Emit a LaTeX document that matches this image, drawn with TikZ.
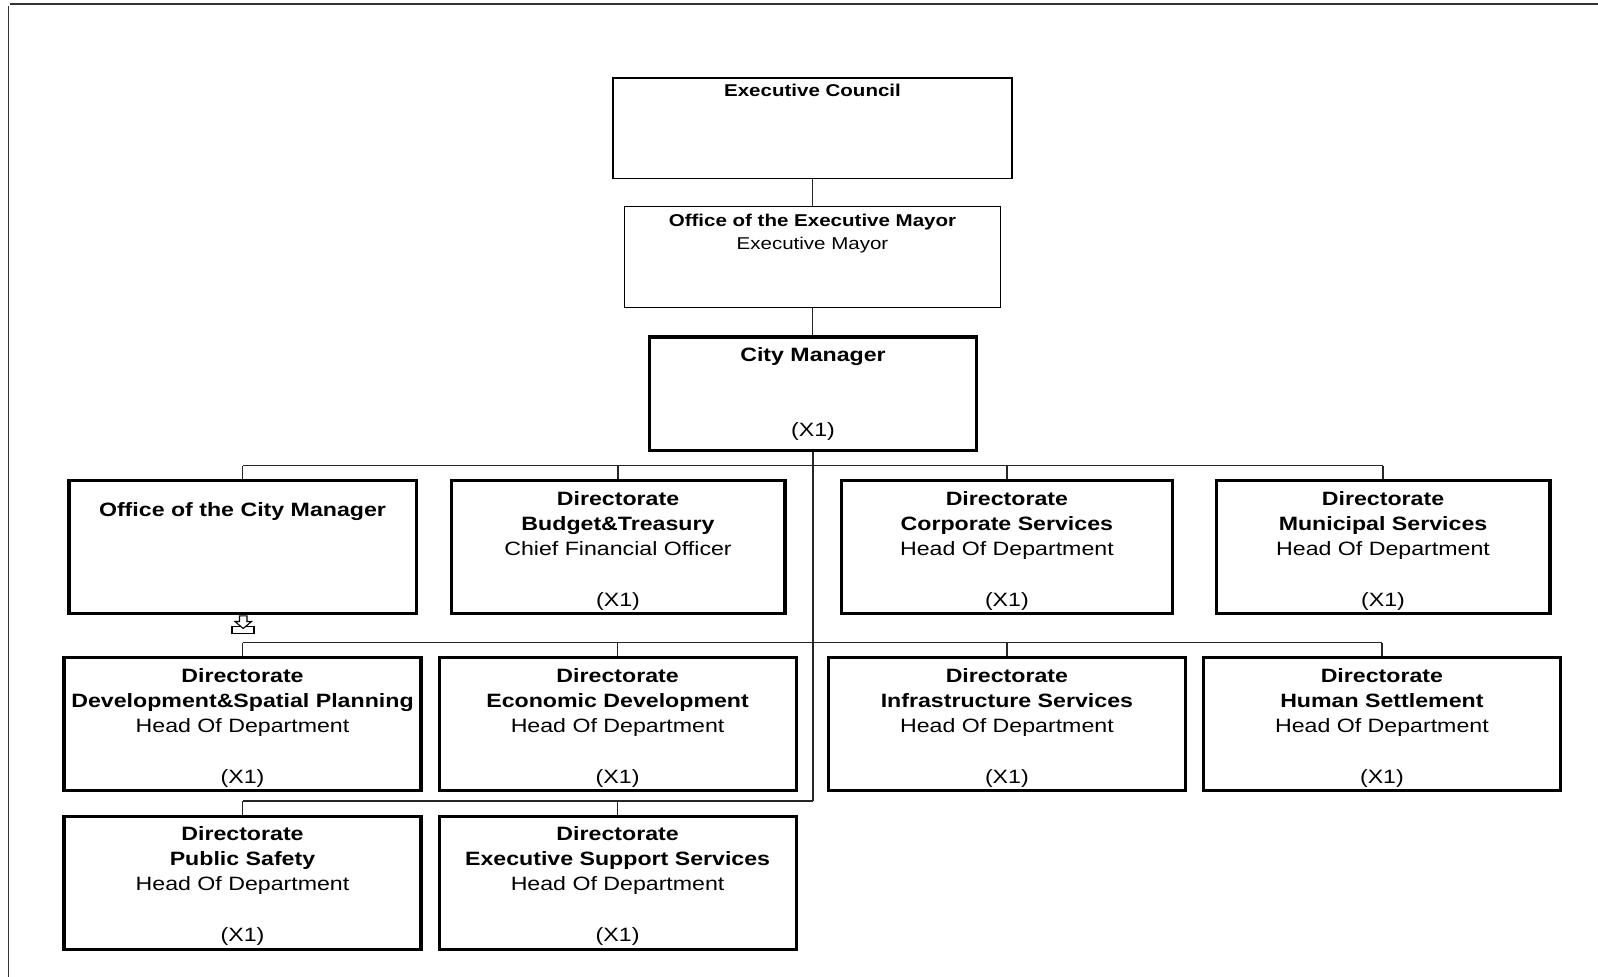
\documentclass[tikz,border=0pt]{standalone}
\usepackage{fontspec}
\setmainfont{Liberation Sans}[FakeStretch=1.2]
\usetikzlibrary{positioning}

\begin{document}
\begin{tikzpicture}[
    x=1pt,y=-1pt,
    post/.style={draw,line width=1.3pt,inner sep=0pt},
    unit/.style={draw,line width=3.2pt,inner sep=0pt,minimum width=357pt,minimum height=133pt},
    head/.style={anchor=base,align=center,font=\fontsize{17.1}{23.3}\selectfont},
    txt/.style={anchor=base,align=center,font=\fontsize{19.3}{25}\selectfont},
    link/.style={draw=black!85,line width=1.2pt},
    frame/.style={draw=black!80,line width=1.3pt}
  ]
    \useasboundingbox (0,0) rectangle (1598,977);
    \draw[frame] (8.3,977) -- (8.3,6);
    \draw[frame] (10,4) -- (1598,4);

    % top of the chart
    \node[post,minimum width=399pt,minimum height=100.4pt] (ec) at (812.5,128.2) {};
    \node[head] (ect) at ([yshift=-19.4pt]ec.north) {\textbf{Executive Council}};
    \node[post,minimum width=375.7pt,minimum height=101.3pt] (em) at (812.5,257) {};
    \node[head] (emt) at ([yshift=-43.6pt]em.north) {\textbf{Office of the Executive Mayor}\\Executive Mayor};
    \node[unit,minimum width=327.4pt,minimum height=113.2pt] (cm) at (813,393.5) {};
    \node[txt] (cmt) at ([yshift=-25.7pt]cm.north) {\textbf{City Manager}};
    \node[txt] (cmx) at ([yshift=15pt]cm.south) {(X1)};

    % first row
    \node[unit,minimum width=347.2pt,minimum height=132.8pt] (ocm) at (242.5,547) {};
    \node[txt] (ocmt) at ([yshift=-37.7pt]ocm.north) {\textbf{Office of the City Manager}};
    \node[unit,minimum width=333.8pt,minimum height=132.8pt] (bt) at (618,547) {};
    \node[txt] (btt) at ([yshift=-76pt]bt.north) {\textbf{Directorate}\\\textbf{Budget\&Treasury}\\Chief Financial Officer};
    \node[txt] (btx) at ([yshift=9pt]bt.south) {(X1)};
    \node[unit,minimum width=330.8pt,minimum height=132.8pt] (cs) at (1006.9,547) {};
    \node[txt] (cst) at ([yshift=-76pt]cs.north) {\textbf{Directorate}\\\textbf{Corporate Services}\\Head Of Department};
    \node[txt] (csx) at ([yshift=9pt]cs.south) {(X1)};
    \node[unit,minimum width=333.8pt,minimum height=132.8pt] (ms) at (1383,547) {};
    \node[txt] (mst) at ([yshift=-76pt]ms.north) {\textbf{Directorate}\\\textbf{Municipal Services}\\Head Of Department};
    \node[txt] (msx) at ([yshift=9pt]ms.south) {(X1)};

    % second row
    \node[unit] (dsp) at (242.5,724.3) {};
    \node[txt] (dspt) at ([yshift=-76pt]dsp.north) {\textbf{Directorate}\\\textbf{Development\&Spatial Planning}\\Head Of Department};
    \node[txt] (dspx) at ([yshift=9pt]dsp.south) {(X1)};
    \node[unit] (ed) at (617.6,724.3) {};
    \node[txt] (edt) at ([yshift=-76pt]ed.north) {\textbf{Directorate}\\\textbf{Economic Development}\\Head Of Department};
    \node[txt] (edx) at ([yshift=9pt]ed.south) {(X1)};
    \node[unit] (is) at (1006.9,724.3) {};
    \node[txt] (ist) at ([yshift=-76pt]is.north) {\textbf{Directorate}\\\textbf{Infrastructure Services}\\Head Of Department};
    \node[txt] (isx) at ([yshift=9pt]is.south) {(X1)};
    \node[unit] (hs) at (1381.9,724.3) {};
    \node[txt] (hst) at ([yshift=-76pt]hs.north) {\textbf{Directorate}\\\textbf{Human Settlement}\\Head Of Department};
    \node[txt] (hsx) at ([yshift=9pt]hs.south) {(X1)};

    % third row
    \node[unit] (ps) at (242.5,882.6) {};
    \node[txt] (pst) at ([yshift=-76pt]ps.north) {\textbf{Directorate}\\\textbf{Public Safety}\\Head Of Department};
    \node[txt] (psx) at ([yshift=9pt]ps.south) {(X1)};
    \node[unit] (ess) at (617.6,882.6) {};
    \node[txt] (esst) at ([yshift=-76pt]ess.north) {\textbf{Directorate}\\\textbf{Executive Support Services}\\Head Of Department};
    \node[txt] (essx) at ([yshift=9pt]ess.south) {(X1)};

    % connectors
    \coordinate (bus1) at (0,465.7);
    \coordinate (bus2) at (0,642.7);
    \coordinate (bus3) at (0,801);
    \draw[link] (ec.south) -- (em.north);
    \draw[link] (em.south) -- (em.south |- cm.north);
    \draw[link] (cm.south) -- (cm.south |- bus3);
    \draw[link] (ocm.north |- bus1) -- (ms.north |- bus1);
    \draw[link] (dsp.north |- bus2) -- (hs.north |- bus2);
    \draw[link] (ps.north |- bus3) -- (cm.south |- bus3);
    \foreach \n in {ocm,bt,cs,ms}
      \draw[link] (\n.north) -- (\n.north |- bus1);
    \foreach \n in {dsp,ed,is,hs}
      \draw[link] (\n.north) -- (\n.north |- bus2);
    \foreach \n in {ps,ess}
      \draw[link] (\n.north) -- (\n.north |- bus3);

    % tray icon below the office
    \draw[line width=1.1pt,fill=white] (232,626.5) rectangle (254,633.5);
    \draw[line width=1.1pt,fill=white] (239.5,615.8) -- (247,615.8) -- (247,621.5) -- (251.5,621.5)
      -- (243.2,628.5) -- (235,621.5) -- (239.5,621.5) -- cycle;
  \end{tikzpicture}
\end{document}
